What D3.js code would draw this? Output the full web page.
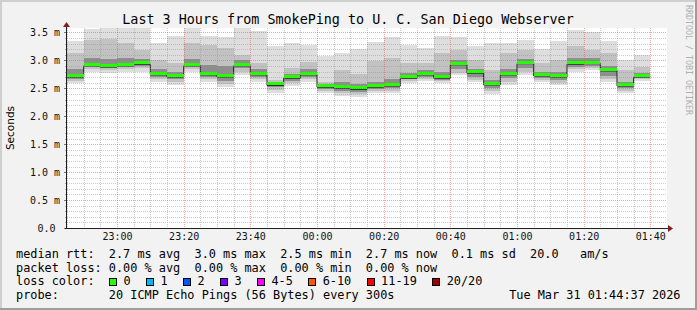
<!DOCTYPE html>
<html><head><meta charset="utf-8">
<script src="https://cdn.jsdelivr.net/npm/d3@7"></script>
<style>html,body{margin:0;padding:0;background:#f2f2f2;} svg{display:block}</style>
</head><body><svg id="c" width="697" height="310"></svg>
<script>
// ---- data ----
const title = "Last 3 Hours from SmokePing to U. C. San Diego Webserver";
const yLabel = "Seconds";
const barEnds = ["22:50","22:55","23:00","23:05","23:10","23:15","23:20","23:25","23:30","23:35","23:40","23:45","23:50","23:55",
  "00:00","00:05","00:10","00:15","00:20","00:25","00:30","00:35","00:40","00:45","00:50","00:55",
  "01:00","01:05","01:10","01:15","01:20","01:25","01:30","01:35","01:40"];
// values in milliseconds
const median = [2.72,2.92,2.90,2.92,2.95,2.76,2.72,2.92,2.76,2.72,2.92,2.76,2.57,2.70,2.76,2.54,2.52,2.50,2.54,2.56,2.70,2.76,2.70,2.94,2.79,2.58,2.76,2.96,2.74,2.72,2.95,2.96,2.83,2.56,2.72];
const pingMax = [3.35,3.56,3.62,3.62,3.62,3.31,3.44,3.62,3.44,3.41,3.62,3.52,3.25,3.31,3.28,3.07,3.13,3.20,3.33,3.41,3.28,3.22,3.44,3.41,3.26,3.31,3.32,3.37,3.21,3.35,3.54,3.50,3.35,3.00,3.10];
const pingHi  = [3.13,3.37,3.39,3.31,3.19,3.01,2.95,3.31,3.28,3.22,3.10,2.95,2.65,2.86,2.98,2.62,2.83,2.75,2.99,3.04,2.95,2.95,3.13,3.19,3.01,2.83,3.13,3.19,2.95,3.01,3.25,3.19,3.13,2.83,2.89];
const pingDarkHi = [2.85,3.05,3.02,3.04,3.02,2.84,2.80,3.02,2.92,2.90,3.00,2.84,2.61,2.76,2.84,2.58,2.62,2.57,2.62,2.66,2.78,2.82,2.80,3.00,2.85,2.65,2.85,3.03,2.80,2.79,3.04,3.04,2.90,2.62,2.78];
const pingDarkLo = [2.67,2.88,2.86,2.88,2.90,2.70,2.66,2.88,2.70,2.64,2.86,2.70,2.52,2.64,2.70,2.48,2.45,2.44,2.48,2.50,2.66,2.70,2.65,2.84,2.71,2.50,2.68,2.86,2.68,2.65,2.89,2.90,2.72,2.50,2.68];
const pingLo  = [2.64,2.85,2.83,2.85,2.86,2.66,2.61,2.85,2.66,2.58,2.80,2.66,2.47,2.59,2.66,2.45,2.41,2.40,2.45,2.46,2.63,2.67,2.63,2.78,2.65,2.45,2.61,2.79,2.65,2.60,2.84,2.86,2.66,2.46,2.66];
const pingMin = [2.60,2.80,2.78,2.80,2.80,2.62,2.56,2.80,2.62,2.52,2.74,2.62,2.42,2.54,2.62,2.41,2.36,2.35,2.42,2.42,2.60,2.64,2.60,2.74,2.61,2.40,2.56,2.74,2.62,2.56,2.80,2.82,2.61,2.42,2.64];
const lossLabels = ["0","1","2","3","4-5","6-10","11-19","20/20"];
const lossColors = ["#26ff00","#00b8ff","#0059ff","#7e00ff","#ff00ff","#ff5500","#ff0000","#a10000"];
const legendLines = [
  "median rtt:  2.7 ms avg  3.0 ms max  2.5 ms min  2.7 ms now  0.1 ms sd  20.0   am/s",
  "packet loss: 0.00 % avg  0.00 % max  0.00 % min  0.00 % now",
  "loss color:",
  "probe:       20 ICMP Echo Pings (56 Bytes) every 300s"
];
const stamp = "Tue Mar 31 01:44:37 2026";
const credit = "RRDTOOL / TOBI OETIKER";
const timeStart = "2026-03-30T22:45:00", timeEnd = "2026-03-31T01:45:00";
const yMax = 3.58;

// ---- drawing ----
const W = 697, H = 310;
const svg = d3.select("#c");
const mono = "'DejaVu Sans Mono', monospace";
const X0 = 67, X1 = 667, Y0 = 228, Y1 = 28;

function toDate(s) {
  const h = +s.slice(0, 2);
  return new Date((h >= 12 ? "2026-03-30T" : "2026-03-31T") + s + ":00");
}
const x = d3.scaleTime().domain([new Date(timeStart), new Date(timeEnd)]).range([X0, X1]);
const y = d3.scaleLinear().domain([0, yMax]).range([Y0, Y1]);

svg.append("rect").attr("width", W).attr("height", H).attr("fill", "#f2f2f2");
// frame
svg.append("path").attr("d", `M1,${H} V1 H${W}`).attr("stroke", "#cfcfcf").attr("stroke-width", 2).attr("fill", "none");
svg.append("path").attr("d", `M0,${H - 1} H${W - 1} V0`).attr("stroke", "#9e9e9e").attr("stroke-width", 2).attr("fill", "none");

svg.append("rect").attr("x", X0).attr("y", Y1).attr("width", X1 - X0).attr("height", Y0 - Y1).attr("fill", "#fff");
svg.append("clipPath").attr("id", "clip").append("rect").attr("x", X0).attr("y", Y1).attr("width", X1 - X0).attr("height", Y0 - Y1);
const plot = svg.append("g").attr("clip-path", "url(#clip)");

const bars = barEnds.map((e, i) => {
  const end = toDate(e);
  return { start: new Date(end.getTime() - 300000), end, med: median[i], max: pingMax[i], hi: pingHi[i],
    dhi: pingDarkHi[i], dlo: pingDarkLo[i], lo: pingLo[i], min: pingMin[i] };
});

const layers = [["max", "min", "#dedede"], ["hi", "lo", "#c2c2c2"], ["dhi", "dlo", "#8e8e8e"]];
layers.forEach(([top, bot, col]) => {
  plot.append("g").selectAll("rect").data(bars).join("rect")
    .attr("x", d => x(d.start)).attr("width", d => x(d.end) - x(d.start))
    .attr("y", d => y(d[top])).attr("height", d => y(d[bot]) - y(d[top]))
    .attr("fill", col).attr("shape-rendering", "crispEdges");
});
// median step line
const pts = bars.map(d => [d.start, d.med]);
pts.push([bars[bars.length - 1].end, bars[bars.length - 1].med]);
plot.append("path").datum(pts)
  .attr("d", d3.line().x(d => x(d[0])).y(d => y(d[1]) + 1).curve(d3.curveStepAfter))
  .attr("fill", "none").attr("stroke", "#202020").attr("stroke-width", 1);
plot.append("g").selectAll("rect").data(bars).join("rect")
  .attr("x", d => x(d.start)).attr("width", d => x(d.end) - x(d.start))
  .attr("y", d => y(d.med) - 2).attr("height", 3)
  .attr("fill", lossColors[0]).attr("shape-rendering", "crispEdges");

// grid
const grid = svg.append("g");
const minorY = d3.range(0, yMax, 0.1).filter(v => Math.abs(v * 2 - Math.round(v * 2)) > 1e-6);
const majorY = d3.range(0, yMax, 0.5);
const minorX = d3.timeMinute.every(5).range(x.domain()[0], x.domain()[1]).filter(t => t.getMinutes() % 20 !== 0);
const majorX = d3.timeMinute.every(20).range(x.domain()[0], x.domain()[1]);
const gc = "rgba(143,143,143,0.45)", mc = "rgba(222,79,79,0.5)";
minorY.forEach(v => grid.append("line").attr("x1", X0).attr("x2", X1).attr("y1", Math.round(y(v)) + 0.5).attr("y2", Math.round(y(v)) + 0.5)
  .attr("stroke", gc).attr("stroke-dasharray", "1,1"));
minorX.forEach(t => grid.append("line").attr("x1", Math.round(x(t)) + 0.5).attr("x2", Math.round(x(t)) + 0.5).attr("y1", Y1).attr("y2", Y0)
  .attr("stroke", gc).attr("stroke-dasharray", "1,1"));
majorY.forEach(v => grid.append("line").attr("x1", X0).attr("x2", X1).attr("y1", Math.round(y(v)) + 0.5).attr("y2", Math.round(y(v)) + 0.5)
  .attr("stroke", mc).attr("stroke-dasharray", "1,1"));
majorX.forEach(t => grid.append("line").attr("x1", Math.round(x(t)) + 0.5).attr("x2", Math.round(x(t)) + 0.5).attr("y1", Y1).attr("y2", Y0)
  .attr("stroke", mc).attr("stroke-dasharray", "1,1"));
// y ticks
majorY.forEach(v => grid.append("line").attr("x1", X0 - 3).attr("x2", X0).attr("y1", Math.round(y(v)) + 0.5).attr("y2", Math.round(y(v)) + 0.5).attr("stroke", "#777"));
minorY.forEach(v => grid.append("line").attr("x1", X0 - 2).attr("x2", X0).attr("y1", Math.round(y(v)) + 0.5).attr("y2", Math.round(y(v)) + 0.5).attr("stroke", "#aaa"));

// axes
svg.append("line").attr("x1", X0 - 0.5).attr("x2", X0 - 0.5).attr("y1", Y0 + 1).attr("y2", Y1 - 2).attr("stroke", "#1f1f1f");
svg.append("line").attr("x1", X0 - 2).attr("x2", X1 + 2).attr("y1", Y0 + 0.5).attr("y2", Y0 + 0.5).attr("stroke", "#1f1f1f");
svg.append("path").attr("d", `M${X0 - 4},${Y1 - 1} L${X0 - 0.5},${Y1 - 6} L${X0 + 3},${Y1 - 1} Z`).attr("fill", "#801f1f");
svg.append("path").attr("d", `M${X1 + 1},${Y0 - 3} L${X1 + 6},${Y0 + 0.5} L${X1 + 1},${Y0 + 4} Z`).attr("fill", "#801f1f");

// y labels
svg.append("g").selectAll("text").data(majorY).join("text")
  .attr("x", v => v === 0 ? 55.5 : 60).attr("y", v => y(v) + 3.8)
  .attr("text-anchor", "end").attr("font-family", mono).attr("font-size", 10).attr("fill", "#111")
  .text(v => v === 0 ? "0.0" : v.toFixed(1) + " m");
// x labels
const fmt = d3.timeFormat("%H:%M");
svg.append("g").selectAll("text").data(majorX).join("text")
  .attr("x", t => x(t) + 0.5).attr("y", 240.3)
  .attr("text-anchor", "middle").attr("font-family", mono).attr("font-size", 10).attr("fill", "#111")
  .text(t => fmt(t));

// title
svg.append("text").attr("x", 348).attr("y", 24).attr("text-anchor", "middle")
  .attr("font-family", mono).attr("font-size", 13.4).text(title);
// y axis title
svg.append("text").attr("transform", "translate(14,128) rotate(-90)").attr("text-anchor", "middle")
  .attr("font-family", "'DejaVu Sans', sans-serif").attr("font-size", 10.5).text(yLabel);
// credit
svg.append("text").attr("transform", "translate(686,5) rotate(90)").attr("text-anchor", "start")
  .attr("font-family", mono).attr("font-size", 8.3).attr("fill", "#b0b0b0").text(credit);

// legend
const lf = 11.86, cw = 7.14, lx = 16;
const baselines = [258.3, 271.8, 285.3, 298.6];
legendLines.forEach((s, i) => {
  svg.append("text").attr("x", lx).attr("y", baselines[i]).attr("font-family", mono).attr("font-size", lf)
    .attr("xml:space", "preserve").style("white-space", "pre").text(s);
});
let bx = lx + 13 * cw;
lossLabels.forEach((lab, i) => {
  svg.append("rect").attr("x", Math.round(bx) + 0.5).attr("y", 278.5).attr("width", 7).attr("height", 7)
    .attr("fill", lossColors[i]).attr("stroke", "#000");
  svg.append("text").attr("x", bx + 14.6).attr("y", baselines[2]).attr("font-family", mono).attr("font-size", lf).text(lab);
  bx += 37 + (lab.length - 1) * cw;
});
svg.append("text").attr("x", 680.5).attr("y", baselines[3]).attr("text-anchor", "end")
  .attr("font-family", mono).attr("font-size", lf).text(stamp);
</script></body></html>
